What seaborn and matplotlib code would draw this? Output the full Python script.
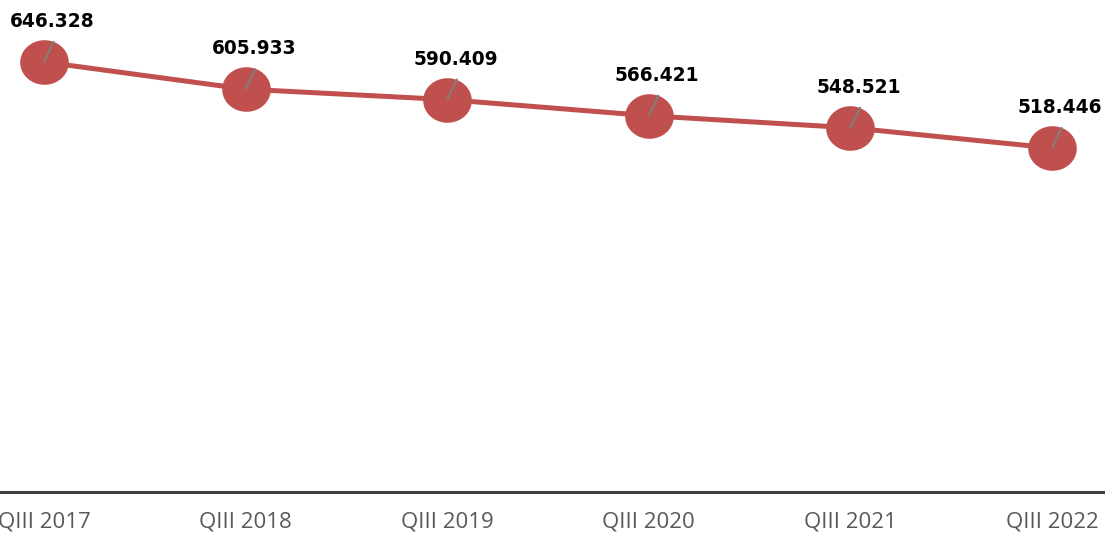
import numpy as np
import matplotlib
matplotlib.use('Agg')
import matplotlib.pyplot as plt
from matplotlib.path import Path
import seaborn as sns

# ── data ──
quarters = ["QIII 2017", "QIII 2018", "QIII 2019", "QIII 2020", "QIII 2021", "QIII 2022"]
values = [646.328, 605.933, 590.409, 566.421, 548.521, 518.446]
labels = ["646.328", "605.933", "590.409", "566.421", "548.521", "518.446"]

LINE_RED = "#C0504D"

sns.set_theme(style="white")
plt.rcParams['font.family'] = ['DejaVu Sans']

fig = plt.figure(figsize=(11.05, 5.33), dpi=100)
ax = fig.add_axes([0, 41 / 533, 1, 492 / 533])

# slightly wide ellipse marker
t = np.linspace(0, 2 * np.pi, 60)
ellipse = Path(np.column_stack([1.09 * np.cos(t), np.sin(t)]))

x = np.arange(len(quarters))
sns.lineplot(x=x, y=values, ax=ax, color=LINE_RED, linewidth=3.6,
             marker=ellipse, markersize=35, markeredgewidth=0,
             markerfacecolor=LINE_RED)

for xi, v, lab in zip(x, values, labels):
    # leader line
    ax.annotate("", xy=(xi, v), xytext=(7, 14.5), textcoords="offset points",
                arrowprops=dict(arrowstyle="-", color="#7F7F7F", lw=1.4,
                                shrinkA=0, shrinkB=0))
    ax.annotate(lab, xy=(xi, v), xytext=(6, 29), textcoords="offset points",
                ha="center", va="center", fontsize=13.4, fontweight="bold",
                color="black")

ax.set_xlim(-0.218, 5.263)
ax.set_ylim(6.9, 738.5)
ax.set_xticks(x)
ax.set_xticklabels(quarters, fontsize=16, color="#595959", family=["Open Sans"])
ax.set_yticks([])
ax.tick_params(axis="x", length=0, pad=14)

for side in ["top", "left", "right"]:
    ax.spines[side].set_visible(False)
ax.spines["bottom"].set_color("#404040")
ax.spines["bottom"].set_linewidth(2.2)

plt.savefig("out.png", dpi=100)
